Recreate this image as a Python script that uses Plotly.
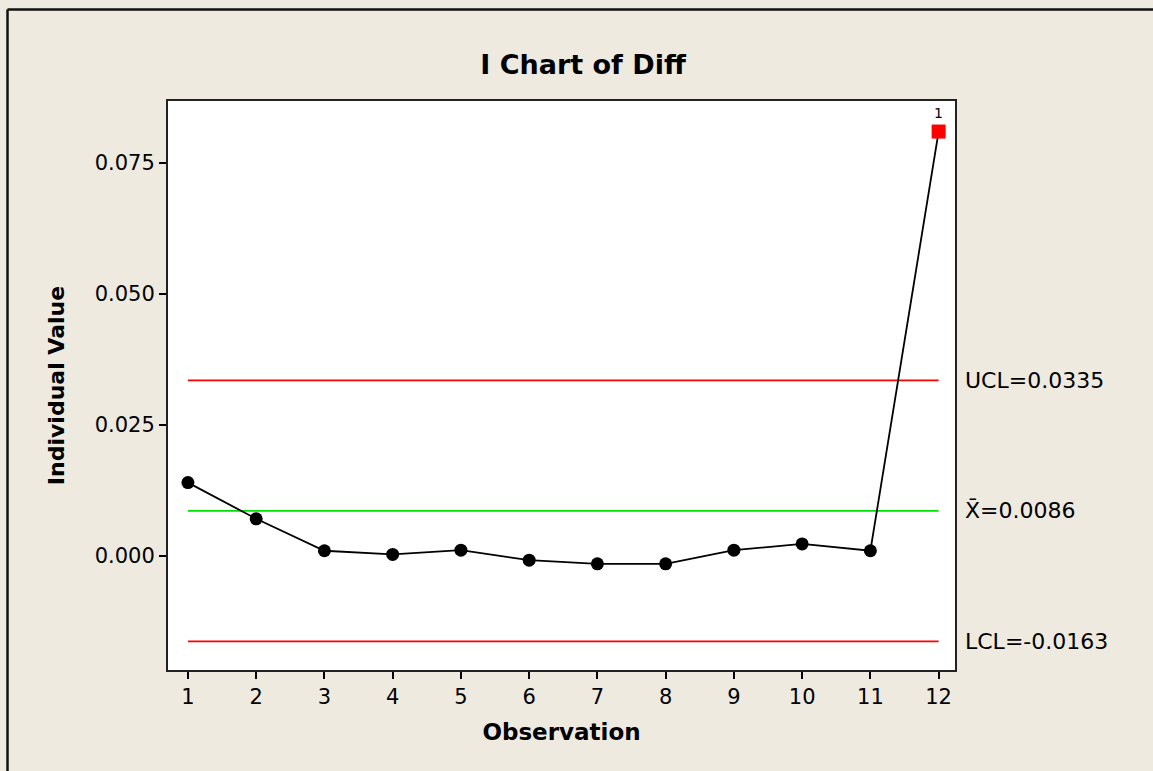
import plotly.graph_objects as go

# ---- data ----
observations = list(range(1, 13))
diff_values = [0.0140, 0.0071, 0.0010, 0.0003, 0.0011, -0.0008,
               -0.0015, -0.0015, 0.0011, 0.0023, 0.0010, 0.0810]
ucl = 0.0335
center = 0.0086
lcl = -0.0163
flagged_obs = [12]
flag_label = "1"
y_ticks = [0.0, 0.025, 0.05, 0.075]
x_ticks = observations
limit_labels = ["UCL=0.0335", "X\u0304=0.0086", "LCL=-0.0163"]

# ---- layout constants ----
W, H = 1153, 771
ML, MR, MT, MB = 168, 198, 101, 101
BG = "#EEEAE0"
FONT = "DejaVu Sans"

fig = go.Figure()

# control limit lines
for val, col in [(ucl, "#FF0000"), (center, "#00E000"), (lcl, "#FF0000")]:
    fig.add_trace(go.Scatter(x=[observations[0], observations[-1]], y=[val, val],
                             mode="lines", line=dict(color=col, width=1.8),
                             hoverinfo="skip", showlegend=False))

colors = ["#FF0000" if o in flagged_obs else "#000000" for o in observations]
symbols = ["square" if o in flagged_obs else "circle" for o in observations]
sizes = [14 if o in flagged_obs else 13 for o in observations]

fig.add_trace(go.Scatter(x=observations, y=diff_values, mode="lines+markers",
                         line=dict(color="black", width=1.8),
                         marker=dict(color=colors, symbol=symbols, size=sizes,
                                     opacity=1, line=dict(width=0)),
                         opacity=1, showlegend=False))

# flag label
for o in flagged_obs:
    fig.add_annotation(x=o, y=diff_values[observations.index(o)], text=flag_label,
                       showarrow=False, yshift=19, font=dict(family=FONT, size=14, color="black"))

# limit labels
for val, txt in zip([ucl, center, lcl], limit_labels):
    fig.add_annotation(xref="paper", x=1, y=val, yref="y", text=txt, xanchor="left",
                       xshift=8, showarrow=False,
                       font=dict(family=FONT, size=22, color="black"))

pw = W - ML - MR
ph = H - MT - MB
# outer frame (left and top lines)
fx = (7.5 - ML) / pw
fy = (H - MB - 9.5) / ph
fig.add_shape(type="line", xref="paper", yref="paper", x0=fx, x1=(W - ML) / pw + 0.01,
              y0=fy, y1=fy, line=dict(color="#111111", width=2.5))
fig.add_shape(type="line", xref="paper", yref="paper", x0=fx, x1=fx,
              y0=fy, y1=-(MB + 5) / ph, line=dict(color="#111111", width=2.5))

fig.update_layout(
    width=W, height=H, autosize=False,
    paper_bgcolor=BG, plot_bgcolor="white",
    margin=dict(l=ML, r=MR, t=MT, b=MB),
    font=dict(family=FONT, size=21, color="black"),
    title=dict(text="<b>I Chart of Diff</b>", x=583 / W, xanchor="center",
               y=1 - 65 / H, yanchor="middle",
               font=dict(family=FONT, size=27, color="black")),
    showlegend=False,
)

fig.update_xaxes(range=[0.708, 12.24], tickvals=x_ticks, ticktext=[str(t) for t in x_ticks],
                 ticks="outside", ticklen=7, tickwidth=1.5, tickcolor="black",
                 showline=True, linecolor="#222222", linewidth=2, mirror=True,
                 showgrid=False, zeroline=False,
                 tickfont=dict(family=FONT, size=21),
                 title=dict(text="<b>Observation</b>", standoff=16,
                            font=dict(family=FONT, size=23)))
fig.update_yaxes(range=[-0.02176, 0.08683], tickvals=y_ticks, tickformat=".3f",
                 ticks="outside", ticklen=7, tickwidth=1.5, tickcolor="black",
                 showline=True, linecolor="#222222", linewidth=2, mirror=True,
                 showgrid=False, zeroline=False,
                 tickfont=dict(family=FONT, size=21),
                 title=dict(text="<b>Individual Value</b>", standoff=24,
                            font=dict(family=FONT, size=22)))

fig.write_html("out.html", config={"displayModeBar": False},
               post_script="document.body.style.margin='0';document.body.style.overflow='hidden';")
